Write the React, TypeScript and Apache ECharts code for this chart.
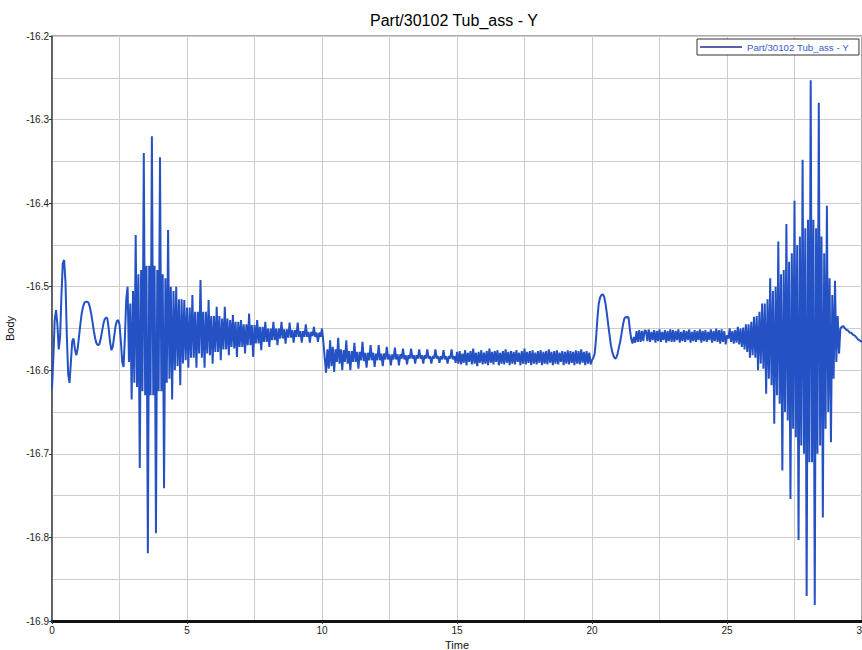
import React, { useEffect, useRef } from "react";
import * as echarts from "echarts";

const chartTitle = "Part/30102 Tub_ass - Y";
const seriesName = "Part/30102 Tub_ass - Y";
const xAxisName = "Time";
const yAxisName = "Body";
const sampleStep = 0.05; // seconds between samples

// Body displacement, one row per second (20 samples each)
const bodyT00to05 = [
  -16.622, -16.585, -16.540, -16.528, -16.545, -16.575, -16.560, -16.510, -16.472, -16.468, -16.495, -16.560, -16.605, -16.615, -16.590, -16.565, -16.562, -16.575, -16.582, -16.574,
  -16.560, -16.545, -16.532, -16.524, -16.519, -16.518, -16.518, -16.519, -16.524, -16.532, -16.542, -16.553, -16.562, -16.568, -16.570, -16.569, -16.563, -16.554, -16.545, -16.539,
  -16.537, -16.538, -16.550, -16.566, -16.576, -16.572, -16.560, -16.548, -16.541, -16.540, -16.545, -16.565, -16.590, -16.596, -16.560, -16.515, -16.500, -16.590, -16.520, -16.635,
  -16.505, -16.615, -16.438, -16.620, -16.485, -16.717, -16.480, -16.625, -16.340, -16.630, -16.475, -16.819, -16.475, -16.630, -16.320, -16.630, -16.475, -16.795, -16.480, -16.625,
  -16.345, -16.625, -16.485, -16.741, -16.490, -16.615, -16.432, -16.610, -16.500, -16.635, -16.505, -16.600, -16.500, -16.595, -16.515, -16.618, -16.515, -16.592, -16.516, -16.588,
];
const bodyT05to10 = [
  -16.525, -16.597, -16.525, -16.585, -16.510, -16.585, -16.530, -16.597, -16.530, -16.580, -16.492, -16.585, -16.530, -16.597, -16.530, -16.580, -16.516, -16.582, -16.535, -16.592,
  -16.535, -16.578, -16.524, -16.578, -16.535, -16.588, -16.538, -16.575, -16.524, -16.575, -16.538, -16.582, -16.540, -16.572, -16.534, -16.574, -16.542, -16.584, -16.542, -16.572,
  -16.540, -16.572, -16.545, -16.580, -16.545, -16.570, -16.532, -16.570, -16.546, -16.584, -16.546, -16.568, -16.540, -16.568, -16.548, -16.576, -16.548, -16.566, -16.542, -16.566,
  -16.550, -16.572, -16.550, -16.564, -16.542, -16.564, -16.550, -16.570, -16.550, -16.562, -16.542, -16.562, -16.551, -16.568, -16.551, -16.561, -16.543, -16.561, -16.552, -16.567,
  -16.552, -16.560, -16.543, -16.560, -16.553, -16.567, -16.553, -16.560, -16.545, -16.560, -16.554, -16.567, -16.554, -16.559, -16.548, -16.560, -16.555, -16.566, -16.555, -16.560,
];
const bodyT10to15 = [
  -16.550, -16.566, -16.585, -16.603, -16.575, -16.598, -16.564, -16.595, -16.572, -16.602, -16.575, -16.590, -16.561, -16.592, -16.575, -16.600, -16.576, -16.590, -16.564, -16.592,
  -16.577, -16.600, -16.577, -16.590, -16.567, -16.590, -16.578, -16.598, -16.578, -16.588, -16.566, -16.589, -16.579, -16.597, -16.579, -16.588, -16.570, -16.588, -16.579, -16.596,
  -16.580, -16.588, -16.570, -16.588, -16.580, -16.595, -16.580, -16.587, -16.572, -16.587, -16.581, -16.594, -16.581, -16.587, -16.573, -16.587, -16.581, -16.594, -16.581, -16.586,
  -16.574, -16.587, -16.582, -16.593, -16.582, -16.586, -16.574, -16.586, -16.582, -16.592, -16.582, -16.586, -16.575, -16.586, -16.582, -16.592, -16.582, -16.586, -16.575, -16.586,
  -16.583, -16.592, -16.583, -16.586, -16.575, -16.586, -16.583, -16.591, -16.583, -16.587, -16.576, -16.587, -16.583, -16.592, -16.583, -16.586, -16.575, -16.587, -16.583, -16.591,
];
const bodyT15to20 = [
  -16.578, -16.592, -16.577, -16.593, -16.580, -16.591, -16.576, -16.594, -16.579, -16.590, -16.577, -16.593, -16.574, -16.592, -16.579, -16.595, -16.578, -16.591, -16.576, -16.593,
  -16.579, -16.592, -16.577, -16.594, -16.574, -16.591, -16.578, -16.593, -16.577, -16.590, -16.576, -16.594, -16.579, -16.592, -16.577, -16.593, -16.575, -16.591, -16.578, -16.594,
  -16.577, -16.592, -16.578, -16.593, -16.576, -16.590, -16.579, -16.594, -16.577, -16.592, -16.574, -16.593, -16.578, -16.591, -16.577, -16.594, -16.576, -16.592, -16.579, -16.593,
  -16.577, -16.591, -16.576, -16.594, -16.578, -16.592, -16.577, -16.593, -16.575, -16.591, -16.578, -16.594, -16.577, -16.592, -16.576, -16.593, -16.579, -16.590, -16.577, -16.594,
  -16.578, -16.592, -16.576, -16.593, -16.577, -16.591, -16.578, -16.594, -16.576, -16.592, -16.577, -16.593, -16.575, -16.591, -16.578, -16.594, -16.577, -16.592, -16.579, -16.593,
];
const bodyT20to25 = [
  -16.588, -16.585, -16.580, -16.562, -16.538, -16.520, -16.513, -16.510, -16.509, -16.512, -16.520, -16.532, -16.545, -16.558, -16.570, -16.578, -16.583, -16.586, -16.585, -16.580,
  -16.572, -16.565, -16.555, -16.545, -16.538, -16.536, -16.537, -16.536, -16.550, -16.562, -16.568, -16.560, -16.567, -16.553, -16.566, -16.552, -16.566, -16.553, -16.565, -16.552,
  -16.553, -16.565, -16.551, -16.566, -16.554, -16.564, -16.552, -16.567, -16.553, -16.565, -16.551, -16.566, -16.554, -16.564, -16.552, -16.567, -16.553, -16.565, -16.551, -16.566,
  -16.552, -16.566, -16.553, -16.564, -16.551, -16.567, -16.554, -16.565, -16.552, -16.566, -16.553, -16.564, -16.551, -16.567, -16.554, -16.565, -16.552, -16.566, -16.553, -16.564,
  -16.551, -16.567, -16.553, -16.565, -16.552, -16.566, -16.554, -16.564, -16.551, -16.567, -16.553, -16.565, -16.550, -16.566, -16.552, -16.568, -16.551, -16.566, -16.553, -16.569,
];
const bodyT25to30 = [
  -16.558, -16.562, -16.550, -16.566, -16.553, -16.568, -16.552, -16.567, -16.548, -16.569, -16.550, -16.572, -16.549, -16.575, -16.545, -16.578, -16.545, -16.585, -16.542, -16.582,
  -16.536, -16.585, -16.535, -16.600, -16.530, -16.592, -16.520, -16.598, -16.520, -16.628, -16.515, -16.610, -16.490, -16.618, -16.505, -16.664, -16.500, -16.630, -16.446, -16.640,
  -16.485, -16.720, -16.480, -16.650, -16.425, -16.660, -16.470, -16.754, -16.460, -16.670, -16.397, -16.680, -16.450, -16.803, -16.440, -16.690, -16.348, -16.700, -16.430, -16.870,
  -16.420, -16.710, -16.253, -16.710, -16.420, -16.881, -16.430, -16.700, -16.280, -16.690, -16.440, -16.776, -16.460, -16.670, -16.403, -16.650, -16.490, -16.686, -16.510, -16.610,
  -16.493, -16.590, -16.535, -16.580, -16.550, -16.548, -16.547, -16.549, -16.551, -16.552, -16.553, -16.555, -16.555, -16.557, -16.558, -16.559, -16.561, -16.563, -16.564, -16.565,
  -16.566,
];

const FONT = "'Liberation Sans', Arial, sans-serif";

export default function App() {
  const ref = useRef<HTMLDivElement>(null);

  useEffect(() => {
    if (!ref.current) return;
    const chart = echarts.init(ref.current, null, { renderer: "svg" });
    const values = [
      ...bodyT00to05,
      ...bodyT05to10,
      ...bodyT10to15,
      ...bodyT15to20,
      ...bodyT20to25,
      ...bodyT25to30,
    ];
    const data = values.map((v, i) => [Math.round(i * sampleStep * 100) / 100, v]);

    chart.setOption({
      animation: false,
      backgroundColor: "#ffffff",
      textStyle: { fontFamily: FONT },
      title: {
        text: chartTitle,
        left: 365,
        top: 7,
        textStyle: { fontFamily: FONT, fontSize: 16, fontWeight: "normal", color: "#000" },
      },
      legend: {
        left: 697,
        top: 39,
        icon: "rect",
        itemWidth: 42,
        itemHeight: 1.5,
        padding: [3, 10, 3, 3],
        backgroundColor: "#fff",
        borderColor: "#333",
        borderWidth: 1,
        borderRadius: 0,
        itemStyle: { color: "#1f2f88" },
        textStyle: { fontFamily: FONT, fontSize: 9.7, color: "#3a5bc8" },
        data: [seriesName],
      },
      grid: {
        left: 52,
        right: 0,
        top: 36,
        bottom: 29,
        outerBoundsMode: "none",
        containLabel: false,
        show: true,
        borderColor: "#555",
        borderWidth: 1,
        backgroundColor: "#fff",
      },
      xAxis: {
        type: "value",
        min: 0,
        max: 30,
        interval: 5,
        name: xAxisName,
        nameLocation: "middle",
        nameGap: 13,
        nameTextStyle: { fontFamily: FONT, fontSize: 11, color: "#111" },
        axisLine: { show: true, lineStyle: { color: "#111", width: 3 } },
        axisTick: { show: true, length: 3, lineStyle: { color: "#333" } },
        axisLabel: { fontFamily: FONT, fontSize: 10, color: "#222", margin: 4 },
        splitLine: { show: true, lineStyle: { color: "#cdcdcd", width: 1 } },
        minorTick: { show: false, splitNumber: 2 },
        minorSplitLine: { show: true, lineStyle: { color: "#cdcdcd", width: 1 } },
      },
      yAxis: {
        type: "value",
        min: -16.9,
        max: -16.2,
        interval: 0.1,
        name: yAxisName,
        nameLocation: "middle",
        nameGap: 29,
        nameRotate: 90,
        nameTextStyle: { fontFamily: FONT, fontSize: 11, color: "#111" },
        axisLine: { show: true, lineStyle: { color: "#444", width: 1.5 } },
        axisTick: { show: true, length: 3, lineStyle: { color: "#333" } },
        axisLabel: {
          fontFamily: FONT,
          fontSize: 10,
          color: "#222",
          margin: 3,
          formatter: (v: number) => v.toFixed(1),
        },
        splitLine: { show: true, lineStyle: { color: "#cdcdcd", width: 1 } },
        minorTick: { show: false, splitNumber: 2 },
        minorSplitLine: { show: true, lineStyle: { color: "#cdcdcd", width: 1 } },
      },
      series: [
        {
          type: "line",
          name: seriesName,
          data,
          showSymbol: false,
          symbol: "none",
          clip: true,
          lineStyle: { color: "#2452c4", width: 2 },
          itemStyle: { color: "#2452c4" },
        },
      ],
    });

    return () => chart.dispose();
  }, []);

  return (
    <div
      ref={ref}
      style={{ position: "absolute", left: 0, top: 0, width: 862, height: 650, background: "#fff" }}
    />
  );
}
